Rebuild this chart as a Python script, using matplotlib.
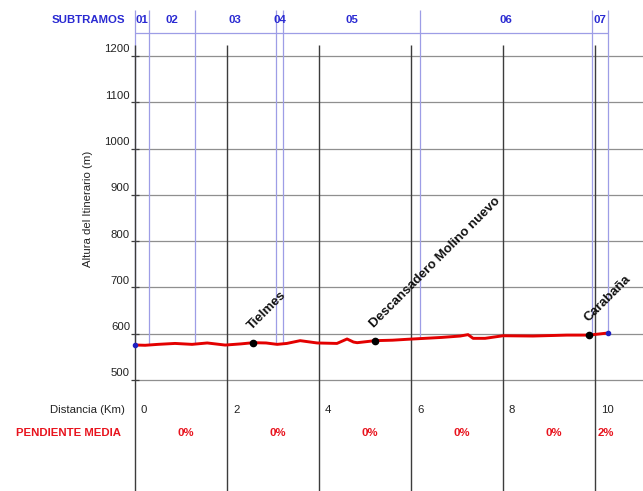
import matplotlib
matplotlib.use("Agg")
import matplotlib.pyplot as plt
from matplotlib import font_manager
import numpy as np

# ---- data -------------------------------------------------------------
profile_km = [0.00, 0.22, 0.50, 0.87, 1.24, 1.57, 1.96, 2.30, 2.57, 2.85,
              3.09, 3.30, 3.59, 3.96, 4.39, 4.61, 4.75, 4.83, 5.22, 5.60,
              5.93, 6.30, 6.67, 7.07, 7.24, 7.35, 7.61, 8.00, 8.65, 9.39,
              9.87, 10.28]
profile_elev = [575.6, 575.0, 577.0, 579.0, 577.0, 580.0, 575.5, 578.0, 580.6, 580.0,
                577.0, 579.0, 585.0, 580.0, 579.0, 588.6, 582.0, 580.6, 585.0, 586.0,
                588.0, 590.0, 592.0, 595.0, 598.0, 590.0, 590.0, 595.6, 595.0, 597.0,
                597.0, 601.5]

waypoint_names = ["Tielmes", "Descansadero Molino nuevo", "Carabaña"]
waypoint_km = [2.57, 5.22, 9.87]
waypoint_elev = [580.6, 585.0, 597.0]

subtramo_bounds = [0.0, 0.30, 1.30, 3.06, 3.22, 6.20, 9.93, 10.28]
subtramo_labels = ["01", "02", "03", "04", "05", "06", "07"]

elev_ticks = [500, 600, 700, 800, 900, 1000, 1100, 1200]
dist_ticks = [0, 2, 4, 6, 8, 10]
dist_labels = ["0", "2", "4", "6", "8", "10"]

slope_bounds = [0, 2, 4, 6, 8, 10, 10.28]
slope_labels = ["0%", "0%", "0%", "0%", "0%", "2%"]

# ---- fonts ------------------------------------------------------------
available = {f.name for f in font_manager.fontManager.ttflist}
if "Liberation Sans Narrow" in available:
    FAM = ["Liberation Sans Narrow", "Liberation Sans", "DejaVu Sans"]
    FS = 10.0
    FS_ROT = 11.5
else:
    FAM = ["Liberation Sans", "DejaVu Sans"]
    FS = 8.2
    FS_ROT = 9.5
plt.rcParams["font.family"] = FAM

BLUE_TXT = "#2a2ad2"
BLUE_LINE = "#9d9de6"
RED_TXT = "#e8141e"
RED_LINE = "#e30000"
GRID = "#8f8f8f"
DARK = "#3c3c3c"

# ---- layout (pixels of the 643x491 canvas) ----------------------------
W, H = 643, 491
X0 = 135            # pixel x of km 0
PX_KM = 46.0        # pixels per km
Y_TOP, Y_BOT = 56, 380   # pixel y of 1200 m and 500 m
M_PX = (Y_BOT - Y_TOP) / (elev_ticks[-1] - elev_ticks[0])


def km_at(px):
    return (px - X0) / PX_KM


def elev_at(py):
    return elev_ticks[0] + (Y_BOT - py) / M_PX


fig = plt.figure(figsize=(W / 100, H / 100), dpi=100)
ax = fig.add_axes([X0 / W, (H - Y_BOT) / H, (W - X0) / W, (Y_BOT - Y_TOP) / H])
ax.set_xlim(0, km_at(W))
ax.set_ylim(elev_ticks[0], elev_ticks[-1])
ax.axis("off")

# horizontal elevation grid with short ticks and labels
for e in elev_ticks:
    ax.hlines(e, 0, km_at(W), color=GRID, lw=0.9, clip_on=False, zorder=1)
    ax.hlines(e, km_at(131), km_at(139), color=DARK, lw=0.9, clip_on=False, zorder=2)
    ax.text(km_at(130), e + 1.5 / M_PX, str(e), ha="right", va="bottom",
            fontsize=FS, color="#222222")

# subtramo boundaries: from the header down to the profile
bound_elev = np.interp(subtramo_bounds, profile_km, profile_elev)
for b, be in zip(subtramo_bounds, bound_elev):
    ax.vlines(b, be, elev_at(10), color=BLUE_LINE, lw=0.9, clip_on=False, zorder=2)
ax.hlines(elev_at(33), subtramo_bounds[0], subtramo_bounds[-1], color=BLUE_LINE,
          lw=0.9, clip_on=False, zorder=2)
for i, lab in enumerate(subtramo_labels):
    mid = 0.5 * (subtramo_bounds[i] + subtramo_bounds[i + 1])
    ax.text(mid, elev_at(20), lab, ha="center", va="center", fontsize=FS,
            fontweight="bold", color=BLUE_TXT, clip_on=False)
ax.text(km_at(125), elev_at(20), "SUBTRAMOS", ha="right", va="center",
        fontsize=FS, fontweight="bold", color=BLUE_TXT)

# black kilometre lines running from the header down through the table
for d in dist_ticks:
    ax.vlines(d, elev_at(H), elev_at(45), color=DARK, lw=1.0, clip_on=False, zorder=3)

# elevation profile
ax.plot(profile_km, profile_elev, color=RED_LINE, lw=2.1, zorder=5,
        solid_capstyle="round", solid_joinstyle="round", clip_on=False)
ax.plot([profile_km[0], profile_km[-1]], [profile_elev[0], profile_elev[-1]],
        "o", ms=3, color="#2020c0", zorder=6, clip_on=False)
ax.plot(waypoint_km, waypoint_elev, "o", ms=4.5, color="black", zorder=7)
for name, k, e in zip(waypoint_names, waypoint_km, waypoint_elev):
    ax.annotate(name, (k, e), xytext=(-1, 13), textcoords="offset pixels",
                rotation=45, rotation_mode="anchor", ha="left", va="baseline",
                fontsize=FS_ROT, fontweight="bold", color="#111111",
                annotation_clip=False)

# axis title
ax.text(km_at(88), elev_at(209), "Altura del Itinerario (m)", rotation=90,
        ha="center", va="center", fontsize=FS, color="#222222")

# table rows under the chart
ax.text(km_at(125), elev_at(410), "Distancia (Km)", ha="right", va="center",
        fontsize=FS, color="#222222")
for d, lab in zip(dist_ticks, dist_labels):
    ax.text(d + 0.13, elev_at(410), lab, ha="left", va="center",
            fontsize=FS, color="#222222", clip_on=False)

ax.text(km_at(121), elev_at(433), "PENDIENTE MEDIA", ha="right", va="center",
        fontsize=FS, fontweight="bold", color=RED_TXT)
for i, lab in enumerate(slope_labels):
    mid = 0.5 * (slope_bounds[i] + slope_bounds[i + 1]) + 0.1
    ax.text(mid, elev_at(433), lab, ha="center", va="center", fontsize=FS,
            fontweight="bold", color=RED_TXT, clip_on=False)

fig.savefig("out.png", dpi=100)
